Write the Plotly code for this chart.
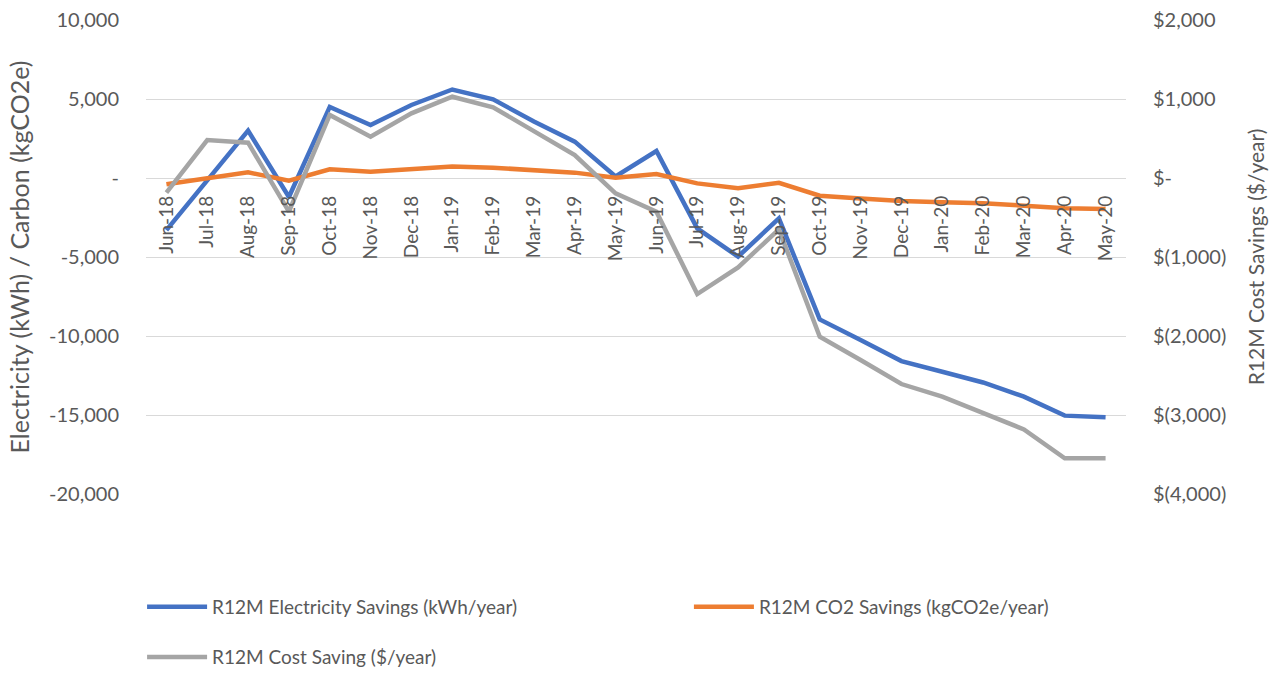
import plotly.graph_objects as go

months = ["Jun-18","Jul-18","Aug-18","Sep-18","Oct-18","Nov-18","Dec-18","Jan-19","Feb-19","Mar-19","Apr-19","May-19",
          "Jun-19","Jul-19","Aug-19","Sep-19","Oct-19","Nov-19","Dec-19","Jan-20","Feb-20","Mar-20","Apr-20","May-20"]
electricity = [-3300,-150,3000,-1200,4500,3350,4620,5600,4980,3570,2300,100,
               1710,-3190,-4980,-2550,-8950,-10250,-11590,-12260,-12940,-13840,-15040,-15150]
co2 = [-400,-20,360,-170,550,400,570,720,650,460,340,20,
       250,-340,-650,-300,-1120,-1290,-1460,-1540,-1600,-1750,-1920,-1960]
cost = [-186,481,447,-426,798,523,819,1029,895,586,291,-194,
        -426,-1469,-1131,-650,-2009,-2304,-2608,-2768,-2979,-3182,-3549,-3549]

left_ticks = [10000,5000,0,-5000,-10000,-15000,-20000]
left_text = ["10,000","5,000","-","-5,000","-10,000","-15,000","-20,000"]
right_ticks = [2000,1000,0,-1000,-2000,-3000,-4000]
right_text = ["$2,000","$1,000","$-","$(1,000)","$(2,000)","$(3,000)","$(4,000)"]

FONT = "Lato"
TXT = "#595959"

fig = go.Figure()
fig.add_trace(go.Scatter(x=months, y=electricity, mode="lines", name="R12M Electricity Savings (kWh/year)",
                         line=dict(color="#4472C4", width=4.5), legend="legend"))
fig.add_trace(go.Scatter(x=months, y=co2, mode="lines", name="R12M CO2 Savings (kgCO2e/year)",
                         line=dict(color="#ED7D31", width=4.5), legend="legend2"))
fig.add_trace(go.Scatter(x=months, y=cost, mode="lines", name="R12M Cost Saving ($/year)",
                         line=dict(color="#A5A5A5", width=4.5), yaxis="y2", legend="legend3"))

leg_common = dict(font=dict(size=19, color=TXT), bgcolor="rgba(0,0,0,0)",
                  xanchor="left", yanchor="middle", orientation="h", itemwidth=60)

fig.update_layout(
    width=1286, height=673,
    margin=dict(l=146, r=160, t=20, b=179, autoexpand=False),
    paper_bgcolor="white", plot_bgcolor="white",
    font=dict(family=FONT, size=20, color=TXT),
    xaxis=dict(type="category", range=[-0.5, 23.5], anchor="free", position=2/3,
               tickangle=-90, showgrid=False, showline=False, ticks="", automargin=False,
               ticklabelstandoff=13, tickfont=dict(size=19, color=TXT)),
    yaxis=dict(range=[-20000, 10000], tickvals=left_ticks, ticktext=left_text,
               showgrid=True, gridcolor="#D9D9D9", gridwidth=1.3, zeroline=False,
               ticklabelstandoff=26, automargin=False,
               title=dict(text="Electricity (kWh) / Carbon (kgCO2e)", standoff=12,
                          font=dict(size=25, color=TXT))),
    yaxis2=dict(range=[-4000, 2000], tickvals=right_ticks, ticktext=right_text,
                overlaying="y", side="right", showgrid=False, zeroline=False,
                ticklabelstandoff=26, automargin=False,
                title=dict(text="R12M Cost Savings ($/year)", standoff=24,
                           font=dict(size=21, color=TXT))),
    legend=dict(x=-0.004, y=-0.238, **leg_common),
    legend2=dict(x=0.554, y=-0.238, **leg_common),
    legend3=dict(x=-0.004, y=-0.344, **leg_common),
    showlegend=True,
)

fig.write_html("out.html", config={"displayModeBar": False},
               post_script="document.body.style.margin='0';document.body.style.overflow='hidden';")
